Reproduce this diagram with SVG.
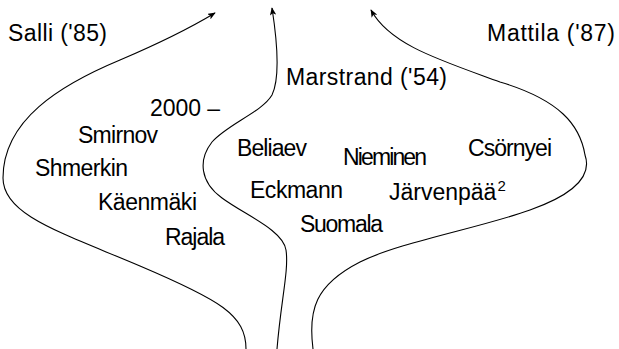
<svg xmlns="http://www.w3.org/2000/svg" width="619" height="349" viewBox="0 0 619 349">
<style>
text{font-family:"Liberation Sans",Arial,sans-serif;font-size:23px;fill:#000}
.c{fill:none;stroke:#000;stroke-width:1.1}
</style>
<defs>
<marker id="ah" viewBox="0 0 10 8" refX="9" refY="4" markerWidth="8" markerHeight="6.4" markerUnits="userSpaceOnUse" orient="auto">
<path d="M0,0 L10,4 L0,8 L2.5,4 Z" fill="#000"/>
</marker>
</defs>
<rect width="619" height="349" fill="#fff"/>
<g id="connectors">
<path class="c" marker-end="url(#ah)" d="M246,349 C246,315 220,300 140,266 C60,232 3,215 3,178 C3,120 60,85 120,60 C160,43 195,25 215,13"/>
<path class="c" marker-end="url(#ah)" d="M277,349 C281,300 289,270 286,250 C283,230 245,215 222,198 C200,182 198,160 212,142 C228,124 262,112 272,95 C280,78 277,40 272,8"/>
<path class="c" marker-end="url(#ah)" d="M313,349 C308,310 315,285 360,262 C400,242 480,228 530,210 C575,194 592,175 585,155 C580,125 560,100 500,82 C440,60 390,45 371,10"/>
</g>
<g id="salli"><text x="8" y="41" textLength="99">Salli ('85)</text></g>
<g id="mattila"><text x="487" y="41" textLength="128">Mattila ('87)</text></g>
<g id="marstrand"><text x="286" y="85" textLength="161">Marstrand ('54)</text></g>
<g id="y2000"><text x="150" y="116" textLength="70">2000 –</text></g>
<g id="smirnov"><text x="78" y="143" textLength="80">Smirnov</text></g>
<g id="shmerkin"><text x="35" y="176" textLength="93">Shmerkin</text></g>
<g id="beliaev"><text x="237" y="156" textLength="70">Beliaev</text></g>
<g id="nieminen"><text x="343" y="165" textLength="84">Nieminen</text></g>
<g id="csornyei"><text x="468" y="156" textLength="84">Csörnyei</text></g>
<g id="kaenmaki"><text x="98" y="210" textLength="99">Käenmäki</text></g>
<g id="eckmann"><text x="250" y="198" textLength="93">Eckmann</text></g>
<g id="jarvenpaa"><text x="389" y="200">Järvenpää<tspan dx="1" dy="-9" style="font-size:15px">2</tspan></text></g>
<g id="rajala"><text x="165" y="245" textLength="60">Rajala</text></g>
<g id="suomala"><text x="300" y="232" textLength="83">Suomala</text></g>
</svg>
